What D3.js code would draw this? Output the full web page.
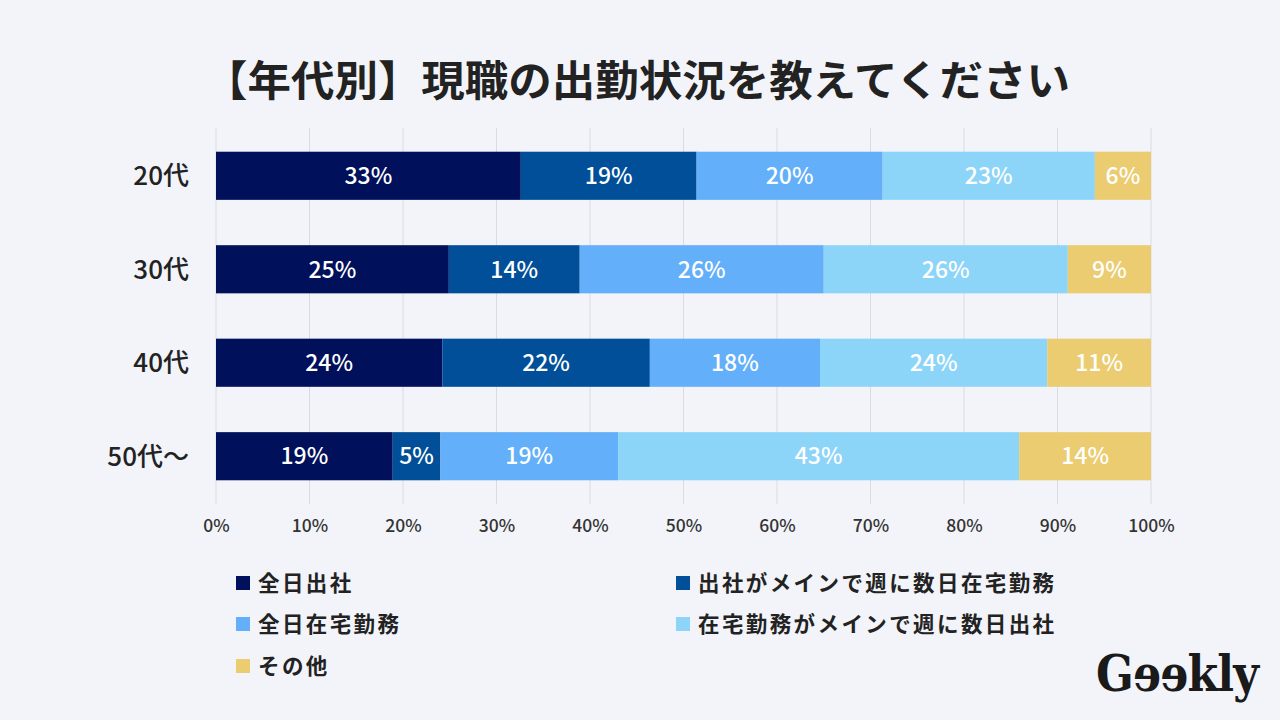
<!DOCTYPE html>
<html>
<head>
<meta charset="utf-8">
<script src="https://cdn.jsdelivr.net/npm/d3@7"></script>
<style>
  html, body { margin: 0; padding: 0; background: #f2f4f9; }
  svg { display: block; font-family: "Noto Sans CJK JP", "Noto Sans", sans-serif; }
</style>
</head>
<body>
<div id="chart"></div>
<script>
const categories = ['20代', '30代', '40代', '50代～'];
const seriesNames = ['全日出社', '出社がメインで週に数日在宅勤務', '全日在宅勤務', '在宅勤務がメインで週に数日出社', 'その他'];
const seriesColors = ['#00105a', '#004f98', '#63aff9', '#8dd5f8', '#ebcc71'];
// 各行の割合（%）
const fullOffice   = [32.6, 24.9, 24.2, 18.9];
const mostlyOffice = [18.8, 14.0, 22.2, 5.1];
const fullRemote   = [19.9, 26.1, 18.2, 19.0];
const mostlyRemote = [22.7, 26.1, 24.3, 42.9];
const other        = [6.0, 8.9, 11.1, 14.1];
const labels = [
  ['33%', '19%', '20%', '23%', '6%'],
  ['25%', '14%', '26%', '26%', '9%'],
  ['24%', '22%', '18%', '24%', '11%'],
  ['19%', '5%', '19%', '43%', '14%']
];
const ticks = [0, 10, 20, 30, 40, 50, 60, 70, 80, 90, 100];

const width = 1280, height = 720;
const svg = d3.select('#chart').append('svg')
  .attr('width', width)
  .attr('height', height);

svg.append('rect').attr('width', width).attr('height', height).attr('fill', '#f2f4f9');

// タイトル
svg.append('text')
  .attr('x', 204).attr('y', 96)
  .attr('font-size', 42)
  .attr('font-weight', 700)
  .attr('fill', '#222')
  .attr('textLength', 866)
  .attr('lengthAdjust', 'spacingAndGlyphs')
  .text('【年代別】現職の出勤状況を教えてください');

const x = d3.scaleLinear().domain([0, 100]).range([216, 1151]);
const y = d3.scaleBand().domain(categories).range([129, 503]).paddingInner(0.485).paddingOuter(0.243);

// グリッド線
svg.append('g').selectAll('line')
  .data(ticks)
  .join('line')
  .attr('x1', d => x(d)).attr('x2', d => x(d))
  .attr('y1', 128).attr('y2', 504)
  .attr('stroke', '#dcdcdf')
  .attr('stroke-width', 1);

// 積み上げデータ
const rows = categories.map((c, i) => {
  const r = { cat: c };
  r[seriesNames[0]] = fullOffice[i];
  r[seriesNames[1]] = mostlyOffice[i];
  r[seriesNames[2]] = fullRemote[i];
  r[seriesNames[3]] = mostlyRemote[i];
  r[seriesNames[4]] = other[i];
  return r;
});
const stacked = d3.stack().keys(seriesNames)(rows);

const layers = svg.append('g').selectAll('g')
  .data(stacked)
  .join('g')
  .attr('fill', (d, i) => seriesColors[i]);

layers.selectAll('rect')
  .data(d => d)
  .join('rect')
  .attr('x', d => x(d[0]))
  .attr('y', d => y(d.data.cat))
  .attr('width', d => x(d[1]) - x(d[0]))
  .attr('height', y.bandwidth());

// バー内ラベル
stacked.forEach((layer, si) => {
  svg.append('g').selectAll('text')
    .data(layer)
    .join('text')
    .attr('x', d => (x(d[0]) + x(d[1])) / 2)
    .attr('y', d => y(d.data.cat) + y.bandwidth() / 2)
    .attr('dy', '0.36em')
    .attr('text-anchor', 'middle')
    .attr('font-size', 23)
    .attr('font-weight', 500)
    .attr('fill', '#fff')
    .text((d, i) => labels[i][si]);
});

// Y軸ラベル
svg.append('g').selectAll('text')
  .data(categories)
  .join('text')
  .attr('x', 189)
  .attr('y', d => y(d) + y.bandwidth() / 2)
  .attr('dy', '0.36em')
  .attr('text-anchor', 'end')
  .attr('font-size', 26)
  .attr('font-weight', 500)
  .attr('fill', '#222')
  .text(d => d);

// X軸
const xAxis = svg.append('g')
  .attr('transform', 'translate(0,504)')
  .call(d3.axisBottom(x).tickValues(ticks).tickFormat(d => d + '%').tickSize(0).tickPadding(16));
xAxis.select('.domain').remove();
xAxis.selectAll('text')
  .attr('font-family', '"Noto Sans CJK JP", sans-serif')
  .attr('font-size', 17.5)
  .attr('font-weight', 500)
  .attr('fill', '#333');

// 凡例
const legendPos = [[236, 583], [676, 583], [236, 624], [676, 624], [236, 666]];
const legend = svg.append('g').selectAll('g')
  .data(seriesNames)
  .join('g')
  .attr('transform', (d, i) => `translate(${legendPos[i][0]},${legendPos[i][1]})`);
legend.append('rect')
  .attr('x', 0).attr('y', -7)
  .attr('width', 14).attr('height', 14)
  .attr('fill', (d, i) => seriesColors[i]);
legend.append('text')
  .attr('x', 22).attr('y', 0)
  .attr('dy', '0.36em')
  .attr('font-size', 21.5)
  .attr('font-weight', 700)
  .attr('letter-spacing', 2.4)
  .attr('fill', '#222')
  .text(d => d);

// ロゴ（e は左右反転）
const logo = svg.append('g').attr('font-family', '"DejaVu Serif", "Liberation Serif", serif')
  .attr('font-weight', 700).attr('font-size', 50).attr('fill', '#1a1a1a');
let lx = 0;
const g1 = logo.append('text').attr('x', lx).attr('y', 0).text('G');
lx += g1.node().getComputedTextLength() - 1;
for (let k = 0; k < 2; k++) {
  const e = logo.append('text').text('e');
  const w = e.node().getComputedTextLength();
  e.attr('transform', `translate(${lx + w},0) scale(-1,1)`);
  lx += w - 1;
}
const kly = logo.append('text').attr('x', lx).attr('y', 0).attr('letter-spacing', -1).text('kly');
lx += kly.node().getComputedTextLength();
const sx = 162 / lx;
logo.attr('transform', `translate(1096,691) scale(${sx},1)`);
</script>
</body>
</html>
